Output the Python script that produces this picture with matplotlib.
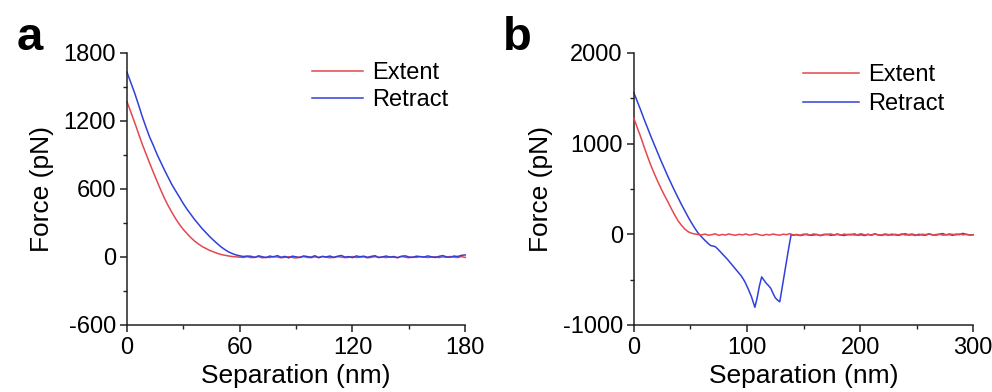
import matplotlib
matplotlib.use("Agg")
import matplotlib.pyplot as plt
from matplotlib.ticker import MultipleLocator

plt.rcParams['font.family'] = ['Liberation Sans', 'DejaVu Sans']
plt.rcParams['axes.unicode_minus'] = False

# ---------------- data: panel a ----------------
sep_a = [0, 2, 4, 6, 8, 10, 12, 14, 16, 18, 20, 22, 24, 26, 28, 30, 32, 34, 36, 38,
         40, 42, 44, 46, 48, 50, 52, 54, 56, 58, 60, 62, 64, 66, 68, 70, 72, 74, 76, 78,
         80, 82, 84, 86, 88, 90, 92, 94, 96, 98, 100, 102, 104, 106, 108, 110, 112, 114, 116, 118,
         120, 122, 124, 126, 128, 130, 132, 134, 136, 138, 140, 142, 144, 146, 148, 150, 152, 154, 156, 158,
         160, 162, 164, 166, 168, 170, 172, 174, 176, 178, 180]

extent_a = [1370, 1280, 1190, 1095, 1000, 915, 830, 748, 668, 590,
            515, 450, 390, 335, 285, 242, 205, 170, 140, 115,
            92, 75, 58, 45, 33, 22, 15, 9, 4, 1, -2,
            -4, 2, -6, -3, 3, -8, -2, -5, 4, -1,
            -7, -3, 2, -5, -9, -1, 3, -4, -6, 1,
            -3, 5, -2, -7, -4, 2, -1, -6, -3, 4,
            -5, -2, 1, -8, -3, 3, -4, -1, -6, 2,
            -3, -5, 4, -2, -7, 0, -4, 3, -1, -5,
            -2, 2, -6, 1, -3, 4, -2, -5, 3, -4]

retract_a = [1630, 1540, 1450, 1350, 1245, 1150, 1060, 985, 905, 835,
             765, 700, 635, 580, 525, 470, 420, 375, 330, 290,
             250, 215, 180, 148, 118, 90, 66, 45, 30, 18, 10, 4, 8,
             6, -4, 10, 2, -6, 8, 0, 12, -3, 5,
             -8, 7, 1, -5, 9, 3, -2, 11, -7, 4,
             0, 8, -4, 6, 13, -1, 3, -6, 9, 2,
             7, -3, 5, 11, -5, 1, 8, -2, 4, -7,
             6, 10, 0, -4, 7, 3, -1, 9, 2, -5,
             5, 12, 1, -3, 8, 4, 14, 18]

# ---------------- data: panel b ----------------
sep_b_ext = [0, 3, 6, 9, 12, 15, 18, 21, 24, 27, 30, 33, 36, 39, 42, 45, 48, 51, 54, 57,
             60, 63, 66, 69, 72, 75, 78, 81, 84, 87, 90, 93, 96, 99, 102, 105, 108, 111, 114, 117,
             120, 123, 126, 129, 132, 135, 138, 141, 144, 147, 150, 153, 156, 159, 162, 165, 168, 171, 174, 177,
             180, 183, 186, 189, 192, 195, 198, 201, 204, 207, 210, 213, 216, 219, 222, 225, 228, 231, 234, 237,
             240, 243, 246, 249, 252, 255, 258, 261, 264, 267, 270, 273, 276, 279, 282, 285, 288, 291, 294, 297, 300]

extent_b = [1280, 1175, 1075, 965, 860, 760, 670, 585, 505, 430,
            360, 285, 215, 150, 100, 58, 28, 12, 3, -3,
            -6, 2, -10, -4, 5, -12, -2, -8, 3, -5,
            -11, 0, -7, 4, -9, -3, 6, -6, -13, -1,
            -8, 3, -5, -10, 1, -4, 7, -7, -2, -11,
            2, -6, -9, 4, -3, -12, 0, -5, 5, -8,
            -2, -10, 3, -6, 1, -9, -4, 6, -7, -1,
            -11, 2, -5, -8, 4, -3, -10, 0, -6, 5,
            -9, -2, 3, -7, -12, 1, -4, 6, -8, -3,
            2, -10, -5, 4, -1, -7, 3, -6, 0, -9, -4]

sep_b_ret = [0, 3, 6, 9, 12, 15, 18, 21, 24, 27, 30, 33, 36, 39, 42, 45, 48, 51, 54, 57,
             60, 63, 66, 68, 70, 72, 74, 77, 80, 83, 86, 89, 92, 95, 98, 101, 104, 107, 109, 111,
             113, 115, 117, 119, 121, 123, 125, 127, 129, 131, 133, 135, 137, 139,
             141, 144, 147, 150, 153, 156, 159, 162, 165, 168, 171, 174, 177, 180, 183, 186, 189, 192,
             195, 198, 201, 204, 207, 210, 213, 216, 219, 222, 225, 228, 231, 234, 237, 240, 243, 246,
             249, 252, 255, 258, 261, 264, 267, 270, 273, 276, 279, 282, 285, 288, 291, 294, 297, 300]

retract_b = [1560, 1465, 1370, 1270, 1175, 1080, 990, 900, 810, 725,
             640, 560, 480, 405, 330, 260, 190, 125, 65, 10,
             -30, -70, -105, -125, -130, -137, -160, -200, -240, -280,
             -325, -370, -415, -460, -520, -600, -690, -805, -700, -570,
             -470, -505, -540, -565, -595, -650, -700, -725, -745, -595,
             -445, -295, -145, -5,
             -10, -4, -14, -6, 2, -12, -8, -3, -15, -5,
             0, -11, -7, 3, -9, -13, -2, -6, 4, -10,
             -5, -14, -1, -8, 5, -7, -12, -3, -9, 1,
             -6, -11, -2, 6, -8, -4, -13, 0, -7, -10,
             3, -5, -9, -1, 8, -6, -3, -11, 2, -4,
             10, -2, -7, -5]

xticks_a = [0, 60, 120, 180]
yticks_a = [-600, 0, 600, 1200, 1800]
xticks_b = [0, 100, 200, 300]
yticks_b = [-1000, 0, 1000, 2000]

RED = '#e4484e'
BLUE = '#3040da'
SPINE = '#222222'

fig = plt.figure(figsize=(9.92, 3.92), dpi=100)
ax_a = fig.add_axes([0.128, 0.171, 0.341, 0.694])
ax_b = fig.add_axes([0.639, 0.171, 0.342, 0.694])


def style(ax, xt, yt, xminor, yminor):
    for s in ['top', 'right']:
        ax.spines[s].set_visible(False)
    for s in ['left', 'bottom']:
        ax.spines[s].set_color(SPINE)
        ax.spines[s].set_linewidth(1.1)
    ax.set_xticks(xt)
    ax.set_yticks(yt)
    ax.set_xlim(xt[0], xt[-1])
    ax.set_ylim(yt[0], yt[-1])
    ax.xaxis.set_minor_locator(MultipleLocator(xminor))
    ax.yaxis.set_minor_locator(MultipleLocator(yminor))
    ax.tick_params(which='major', direction='out', length=5, width=1.1,
                   color=SPINE, labelsize=17, pad=3)
    ax.tick_params(which='minor', direction='out', length=3, width=1.0, color=SPINE)
    ax.tick_params(axis='x', which='major', pad=4)
    ax.set_xlabel('Separation (nm)', fontsize=19, labelpad=3)
    ax.set_ylabel('Force (pN)', fontsize=19, labelpad=7)
    for sp in ax.spines.values():
        sp.set_clip_on(False)


# panel a
la1, = ax_a.plot(sep_a, extent_a, color=RED, lw=1.1, label='Extent', clip_on=False)
la2, = ax_a.plot(sep_a, retract_a, color=BLUE, lw=1.1, label='Retract', clip_on=False)
style(ax_a, xticks_a, yticks_a, 30, 300)
ax_a.legend(handles=[la1, la2], loc='upper left', bbox_to_anchor=(0.547, 0.965),
            frameon=False, fontsize=17, handlelength=2.15, handletextpad=0.4,
            labelspacing=0.2, borderpad=0, borderaxespad=0)

# panel b
lb2, = ax_b.plot(sep_b_ret, retract_b, color=BLUE, lw=1.1, label='Retract', zorder=2, clip_on=False)
lb1, = ax_b.plot(sep_b_ext, extent_b, color=RED, lw=1.1, label='Extent', zorder=3, clip_on=False)
style(ax_b, xticks_b, yticks_b, 50, 500)
ax_b.legend(handles=[lb1, lb2], loc='upper left', bbox_to_anchor=(0.499, 0.958),
            frameon=False, fontsize=17, handlelength=2.35, handletextpad=0.4,
            labelspacing=0.3, borderpad=0, borderaxespad=0)

fig.text(0.017, 0.872, 'a', fontsize=34, fontweight='bold', ha='left', va='baseline')
fig.text(0.507, 0.872, 'b', fontsize=34, fontweight='bold', ha='left', va='baseline')

fig.savefig('out.png', dpi=100)
